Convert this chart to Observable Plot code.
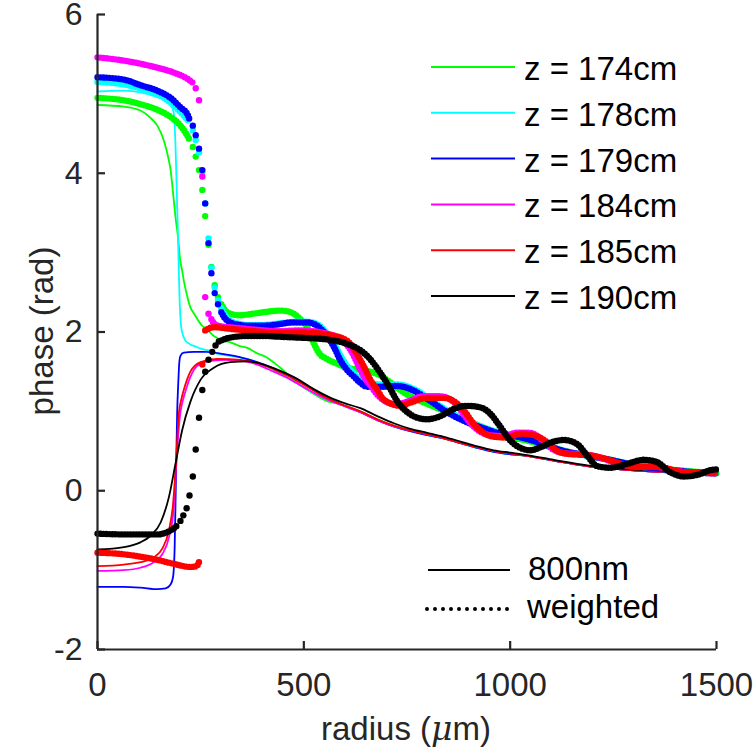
<!DOCTYPE html>
<html><head><meta charset="utf-8">
<script src="https://cdn.jsdelivr.net/npm/d3@7"></script>
<script src="https://cdn.jsdelivr.net/npm/@observablehq/plot@0.6"></script>
<style>
html,body{margin:0;padding:0;background:#fff;}
#chart svg{display:block;}
</style></head><body><div id="chart"></div>
<script>
// ---------- labels / ticks ----------
const zLabels = ["z = 174cm","z = 178cm","z = 179cm","z = 184cm","z = 185cm","z = 190cm"];
const colors  = ["#00ff00","#00ffff","#0000ff","#ff00ff","#ff0000","#000000"];
const styleLabels = ["800nm","weighted"];
const xTicks = [0,500,1000,1500];
const yTicks = [-2,0,2,4,6];
const xTitle = "radius (μm)";
const yTitle = "phase (rad)";

// ---------- 800nm (solid) : [radius, phase] ----------
const solid174 = [[0,4.86],[64,4.84],[104,4.79],[128,4.70],[145,4.60],[161,4.41],[173,4.16],[177,4.05],[181,3.86],[185,3.65],[189,3.45],[195,3.20],[201,2.88],[205,2.78],[209,2.65],[217,2.46],[225,2.31],[233,2.24],[250,2.10],[266,2.03],[282,1.95],[306,1.89],[322,1.87],[347,1.82],[363,1.80],[387,1.73],[403,1.70],[443,1.55],[484,1.36],[524,1.22],[556,1.13],[581,1.10],[610,1.05],[640,0.99],[678,0.90],[718,0.82],[758,0.76],[799,0.71],[839,0.66],[880,0.60],[920,0.54],[960,0.50],[1001,0.46],[1041,0.44],[1106,0.38],[1187,0.31],[1267,0.27],[1348,0.24],[1429,0.22],[1500,0.21]];
const solid178 = [[0,5.03],[64,5.04],[104,5.02],[145,4.96],[173,4.89],[181,4.83],[185,4.75],[189,4.35],[193,3.60],[196,3.00],[199,2.40],[202,2.10],[206,1.98],[212,1.90],[220,1.86],[241,1.81],[250,1.79],[274,1.76],[282,1.74],[322,1.70],[363,1.66],[403,1.58],[443,1.48],[484,1.35],[524,1.23],[556,1.15],[600,1.07],[640,0.99],[678,0.90],[718,0.81],[758,0.75],[799,0.70],[839,0.66],[880,0.60],[920,0.54],[960,0.49],[1001,0.46],[1041,0.44],[1106,0.38],[1187,0.31],[1267,0.27],[1348,0.24],[1429,0.22],[1500,0.20]];
const solid179 = [[0,-1.21],[64,-1.21],[104,-1.22],[145,-1.24],[165,-1.23],[177,-1.18],[183,-1.09],[187,-0.71],[190,0.13],[193,0.97],[196,1.39],[198,1.60],[201,1.70],[209,1.74],[233,1.75],[266,1.75],[306,1.72],[347,1.68],[387,1.62],[427,1.54],[468,1.44],[508,1.32],[548,1.19],[590,1.09],[637,0.99],[678,0.89],[718,0.81],[758,0.75],[799,0.70],[839,0.66],[880,0.60],[920,0.54],[960,0.49],[1001,0.46],[1041,0.44],[1106,0.38],[1187,0.31],[1267,0.27],[1348,0.24],[1429,0.22],[1500,0.20]];
const solid184 = [[0,-1.01],[64,-1.00],[104,-0.97],[136,-0.90],[157,-0.80],[173,-0.59],[185,-0.21],[191,0.34],[200,0.95],[206,1.12],[213,1.25],[221,1.38],[229,1.48],[241,1.57],[266,1.63],[306,1.65],[347,1.64],[387,1.59],[427,1.50],[468,1.40],[508,1.28],[548,1.17],[590,1.08],[637,0.99],[678,0.89],[718,0.81],[758,0.76],[799,0.71],[839,0.66],[880,0.60],[920,0.55],[960,0.50],[1001,0.47],[1041,0.44],[1106,0.38],[1187,0.31],[1267,0.27],[1348,0.24],[1429,0.22],[1500,0.21]];
const solid185 = [[0,-0.95],[64,-0.93],[104,-0.90],[136,-0.84],[157,-0.73],[173,-0.50],[183,-0.17],[190,0.34],[197,0.97],[203,1.15],[209,1.27],[217,1.40],[225,1.50],[250,1.62],[290,1.66],[347,1.65],[387,1.61],[427,1.53],[468,1.43],[508,1.31],[548,1.19],[590,1.09],[637,1.00],[678,0.90],[718,0.82],[758,0.76],[799,0.71],[839,0.66],[880,0.60],[920,0.55],[960,0.50],[1001,0.47],[1041,0.44],[1106,0.38],[1187,0.31],[1267,0.27],[1348,0.24],[1429,0.22],[1500,0.21]];
const solid190 = [[0,-0.74],[64,-0.71],[104,-0.65],[128,-0.57],[153,-0.40],[173,-0.08],[189,0.34],[205,0.76],[225,1.12],[250,1.40],[282,1.55],[322,1.62],[363,1.63],[403,1.59],[443,1.51],[484,1.41],[524,1.28],[565,1.17],[600,1.10],[637,1.04],[678,0.94],[718,0.85],[758,0.78],[799,0.73],[839,0.68],[880,0.62],[920,0.56],[960,0.51],[1001,0.48],[1041,0.45],[1106,0.39],[1187,0.32],[1267,0.28],[1348,0.25],[1429,0.23],[1500,0.22]];

// ---------- weighted (dotted) : dense head / sparse steep dots / dense tail ----------
const w174Head  = [[0,4.95],[30,4.94],[63,4.92],[104,4.87],[145,4.80],[177,4.71],[201,4.60],[217,4.48],[223,4.42]];
const w174Steep = [[231,4.33],[238,4.21],[246,4.04],[254,3.79],[261,3.46],[269,3.10],[276,2.82],[284,2.59],[292,2.44]];
const w174Tail  = [[300,2.35],[310,2.27],[322,2.23],[345,2.21],[363,2.22],[403,2.25],[443,2.27],[468,2.25],[492,2.16],[508,2.06],[524,1.86],[536,1.74],[556,1.66],[581,1.60],[605,1.55],[629,1.53],[654,1.51],[686,1.45],[718,1.33],[751,1.21],[783,1.13],[815,1.06],[847,0.99],[880,0.92],[920,0.83],[960,0.75],[1000,0.68],[1050,0.62],[1100,0.55],[1150,0.48],[1200,0.43],[1250,0.38],[1300,0.33],[1350,0.29],[1400,0.26],[1450,0.24],[1500,0.22]];

const w178Head  = [[0,5.15],[63,5.12],[104,5.07],[145,5.00],[177,4.89],[201,4.77],[217,4.68],[223,4.64]];
const w178Steep = [[231,4.54],[238,4.42],[246,4.26],[254,4.01],[261,3.62],[269,3.18],[276,2.81],[284,2.56],[292,2.40]];
const w178Tail  = [[300,2.30],[308,2.22],[322,2.14],[345,2.10],[363,2.09],[403,2.09],[443,2.11],[484,2.13],[508,2.13],[532,2.10],[556,1.98],[573,1.85],[589,1.70],[605,1.57],[621,1.48],[637,1.40],[654,1.36],[686,1.34],[726,1.34],[767,1.28],[807,1.15],[847,1.01],[888,0.90],[928,0.81],[969,0.74],[1009,0.69],[1049,0.64],[1090,0.57],[1130,0.50],[1170,0.46],[1211,0.42],[1251,0.38],[1292,0.33],[1332,0.29],[1372,0.27],[1413,0.25],[1453,0.23],[1500,0.22]];

const w179Head  = [[0,5.21],[64,5.18],[104,5.11],[145,5.04],[177,4.95],[201,4.83],[217,4.75],[223,4.68]];
const w179Steep = [[231,4.60],[238,4.48],[246,4.31],[254,4.04],[261,3.62],[269,3.12],[276,2.74],[284,2.49],[292,2.35]];
const w179Tail  = [[300,2.25],[308,2.18],[322,2.12],[345,2.09],[363,2.08],[403,2.08],[443,2.10],[468,2.12],[508,2.12],[532,2.08],[556,1.95],[573,1.81],[589,1.64],[605,1.52],[621,1.44],[637,1.36],[654,1.31],[686,1.31],[726,1.32],[767,1.26],[807,1.13],[847,0.99],[888,0.88],[928,0.80],[969,0.73],[1009,0.69],[1049,0.64],[1090,0.57],[1130,0.50],[1170,0.46],[1211,0.42],[1251,0.38],[1292,0.33],[1332,0.29],[1372,0.27],[1413,0.25],[1453,0.23],[1500,0.22]];

const w184Head  = [[0,5.46],[63,5.42],[104,5.38],[145,5.33],[184,5.27],[218,5.19],[231,5.14]];
const w184Steep = [[238,5.07],[246,4.92],[254,3.96],[261,2.44],[269,2.23]];
const w184Tail  = [[276,2.16],[284,2.10],[300,2.07],[322,2.06],[363,2.04],[403,2.02],[443,2.01],[484,2.02],[524,2.01],[556,1.98],[590,1.91],[615,1.76],[632,1.58],[648,1.42],[665,1.30],[680,1.20],[700,1.12],[725,1.09],[750,1.12],[790,1.19],[830,1.19],[855,1.15],[878,1.03],[902,0.86],[926,0.75],[950,0.70],[985,0.69],[1015,0.73],[1047,0.73],[1080,0.63],[1104,0.52],[1136,0.47],[1177,0.46],[1217,0.42],[1257,0.35],[1298,0.31],[1338,0.31],[1362,0.30],[1403,0.25],[1443,0.23],[1500,0.22]];

const w185Head  = [[0,-0.78],[63,-0.80],[104,-0.83],[145,-0.87],[184,-0.92],[225,-0.96],[240,-0.95],[246,-0.90]];
const w185Steep = [[254,1.59]];
const w185Tail  = [[261,2.02],[282,2.06],[322,2.04],[363,2.02],[403,2.00],[443,1.99],[484,2.00],[524,1.99],[565,1.96],[605,1.89],[629,1.72],[645,1.57],[661,1.40],[678,1.27],[690,1.17],[710,1.10],[734,1.07],[758,1.11],[799,1.17],[839,1.17],[863,1.13],[888,1.01],[912,0.84],[936,0.73],[960,0.68],[993,0.67],[1025,0.72],[1057,0.70],[1090,0.61],[1114,0.50],[1146,0.46],[1187,0.45],[1227,0.41],[1267,0.34],[1308,0.30],[1348,0.30],[1372,0.29],[1413,0.24],[1453,0.23],[1500,0.22]];

const w190Head  = [[0,-0.54],[63,-0.55],[104,-0.55],[145,-0.55],[177,-0.50],[195,-0.43]];
const w190Steep = [[201,-0.38],[208,-0.31],[216,-0.22],[223,-0.06],[231,0.18],[238,0.52],[246,0.92],[254,1.27],[261,1.50],[269,1.65],[278,1.75],[286,1.83]];
const w190Tail  = [[294,1.88],[322,1.93],[363,1.95],[403,1.95],[443,1.94],[484,1.93],[524,1.92],[565,1.90],[605,1.85],[637,1.77],[657,1.68],[674,1.57],[690,1.45],[710,1.28],[726,1.13],[751,0.99],[775,0.92],[799,0.90],[831,0.94],[863,1.03],[896,1.07],[928,1.05],[952,0.97],[977,0.80],[1001,0.63],[1025,0.54],[1049,0.51],[1074,0.55],[1100,0.61],[1130,0.64],[1162,0.59],[1187,0.44],[1211,0.31],[1243,0.29],[1284,0.34],[1324,0.39],[1356,0.36],[1389,0.23],[1421,0.18],[1453,0.20],[1486,0.26],[1500,0.27]];

const solids = [solid174, solid178, solid179, solid184, solid185, solid190];
const heads  = [w174Head, w178Head, w179Head, w184Head, w185Head, w190Head];
const steeps = [w174Steep, w178Steep, w179Steep, w184Steep, w185Steep, w190Steep];
const tails  = [w174Tail, w178Tail, w179Tail, w184Tail, w185Tail, w190Tail];

// ---------- build ----------
const FONT = "'Liberation Sans', Arial, Helvetica, sans-serif";
const AX = "#262626";
const X = d => d[0], Y = d => d[1];
const marks = [];
solids.forEach((s, i) => marks.push(Plot.line(s, {x: X, y: Y, stroke: colors[i], strokeWidth: 1.8, curve: "monotone-x"})));
colors.forEach((c, i) => {
  for (const seg of [heads[i], tails[i]]) {
    marks.push(Plot.line(seg, {x: X, y: Y, stroke: c, strokeWidth: 6.4, strokeDasharray: "0 3", strokeLinecap: "round", curve: "monotone-x"}));
  }
  marks.push(Plot.dot(steeps[i], {x: X, y: Y, r: 3.2, fill: c}));
});
// axes (MATLAB style: left + bottom lines, inward ticks)
marks.push(Plot.ruleX([0], {stroke: AX, strokeWidth: 2.2}));
marks.push(Plot.ruleY([-2], {stroke: AX, strokeWidth: 2.2}));
marks.push(Plot.tickX(xTicks, {x: d => d, stroke: AX, strokeWidth: 2.2, insetTop: 627}));
marks.push(Plot.tickY(yTicks, {y: d => d, stroke: AX, strokeWidth: 2.2, insetRight: 611}));
marks.push(Plot.axisX({ticks: xTicks, tickSize: 0, tickPadding: 23, fontSize: 33, tickFormat: d => String(d), label: null}));
marks.push(Plot.axisY({ticks: yTicks, tickSize: 0, tickPadding: 15, fontSize: 32, tickFormat: d => String(d), label: null}));

const chart = Plot.plot({
  width: 756, height: 754,
  marginLeft: 97, marginRight: 40, marginTop: 14, marginBottom: 105,
  x: {domain: [0, 1500]},
  y: {domain: [-2, 6]},
  style: {fontFamily: FONT, color: AX, background: "#fff", overflow: "visible"},
  marks
});
document.getElementById("chart").appendChild(chart);

// ---------- titles & legends (layout overlay) ----------
const svg = d3.select(chart);
const g = svg.append("g").attr("font-family", FONT).attr("font-size", 33).attr("text-anchor", "start");
const xt = g.append("text").attr("x", 406).attr("y", 740).attr("text-anchor", "middle").attr("fill", AX);
xt.append("tspan").text(xTitle.slice(0, 8));
xt.append("tspan").attr("font-style", "italic").attr("font-family", "'DejaVu Serif', 'Liberation Serif', serif").text(xTitle.slice(8, 9));
xt.append("tspan").text(xTitle.slice(9));
g.append("text").attr("transform", "translate(53,331) rotate(-90)").attr("text-anchor", "middle").attr("fill", AX).text(yTitle);

zLabels.forEach((t, i) => {
  const yy = 67 + i * 45.8;
  g.append("line").attr("x1", 431).attr("x2", 515).attr("y1", yy).attr("y2", yy).attr("stroke", colors[i]).attr("stroke-width", 2);
  g.append("text").attr("x", 524).attr("y", yy + 13).attr("text-anchor", "start").attr("fill", "#000").text(t);
});
g.append("line").attr("x1", 428).attr("x2", 510).attr("y1", 570).attr("y2", 570).attr("stroke", "#000").attr("stroke-width", 2);
g.append("text").attr("x", 528).attr("y", 580).attr("text-anchor", "start").attr("fill", "#000").text(styleLabels[0]);
g.append("line").attr("x1", 427).attr("x2", 508).attr("y1", 609).attr("y2", 609).attr("stroke", "#000").attr("stroke-width", 4).attr("stroke-dasharray", "0 8").attr("stroke-linecap", "round");
g.append("text").attr("x", 527).attr("y", 618).attr("text-anchor", "start").attr("fill", "#000").text(styleLabels[1]);
</script>
</body></html>
